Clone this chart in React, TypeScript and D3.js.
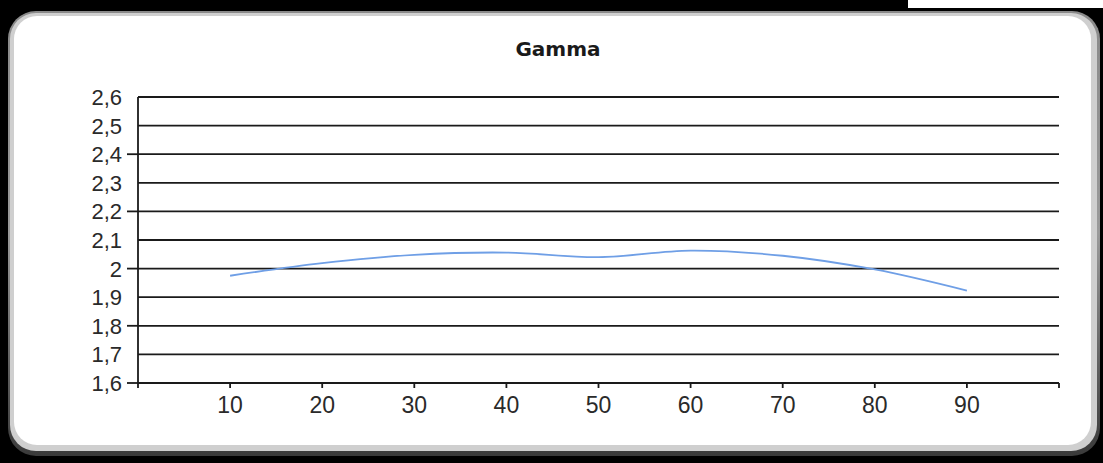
import React from "react";
import * as d3 from "d3";

const xValues = [10, 20, 30, 40, 50, 60, 70, 80, 90];
const gammaValues = [1.975, 2.019, 2.048, 2.056, 2.04, 2.063, 2.045, 1.997, 1.923];
const yTickLabels = [1.6, 1.7, 1.8, 1.9, 2.0, 2.1, 2.2, 2.3, 2.4, 2.5, 2.6];
const yMajorTicks = [1.6, 1.8, 2.0, 2.2, 2.4];
const xTickLabels = [10, 20, 30, 40, 50, 60, 70, 80, 90];
const xTickMarks = [10, 20, 30, 40, 50, 60, 70, 80, 90, 100];
const title = "Gamma";

const W = 1103;
const H = 463;

export default function App() {
  const x = d3.scaleLinear().domain([0, 100]).range([138, 1059]);
  const y = d3.scaleLinear().domain([1.6, 2.6]).range([383, 97]);
  const line = d3
    .line<number>()
    .x((_, i) => x(xValues[i]))
    .y((d) => y(d))
    .curve(d3.curveCatmullRom.alpha(0.5));
  const fmt = (v: number) => (Number.isInteger(v) ? String(v) : v.toFixed(1).replace(".", ","));

  return (
    <svg
      width={W}
      height={H}
      style={{ position: "fixed", left: 0, top: 0, display: "block" }}
      fontFamily="'Liberation Sans', Arial, sans-serif"
    >
      <defs>
        <linearGradient id="ring" x1="0" y1="0" x2="0" y2="1">
          <stop offset="0" stopColor="#8a8a8a" />
          <stop offset="0.5" stopColor="#9a9a9a" />
          <stop offset="1" stopColor="#3a3a3a" />
        </linearGradient>
      </defs>
      <rect x={0} y={0} width={W} height={H} fill="#000" />
      <rect x={908} y={0} width={195} height={8} fill="#fff" />
      <rect x={8} y={11} width={1092} height={445} rx={28} fill="url(#ring)" />
      <rect x={10} y={13} width={1087} height={438} rx={26} fill="#cfcfcf" />
      <rect x={14} y={16} width={1077} height={429} rx={23} fill="#fff" />

      <text
        x={558}
        y={56}
        textAnchor="middle"
        fontFamily="'DejaVu Sans', Verdana, sans-serif"
        fontWeight="bold"
        fontSize={20}
        fill="#1a1a1a"
      >
        {title}
      </text>

      {yTickLabels.map((v) => (
        <line key={"g" + v} x1={x(0)} x2={x(100)} y1={y(v)} y2={y(v)} stroke="#1a1a1a" strokeWidth={1.8} />
      ))}
      {yMajorTicks.map((v) => (
        <line key={"t" + v} x1={x(0) - 11} x2={x(0)} y1={y(v)} y2={y(v)} stroke="#1a1a1a" strokeWidth={1.8} />
      ))}
      {yTickLabels.map((v) => (
        <text key={"l" + v} x={122} y={y(v)} dy="0.36em" textAnchor="end" fontSize={22} fill="#2a2a2a">
          {fmt(v)}
        </text>
      ))}

      <line x1={x(0)} x2={x(0)} y1={y(2.6)} y2={y(1.6) + 5} stroke="#1a1a1a" strokeWidth={1.8} />
      {xTickMarks.map((v) => (
        <line key={"xt" + v} x1={x(v)} x2={x(v)} y1={y(1.6)} y2={y(1.6) + 5} stroke="#1a1a1a" strokeWidth={1.8} />
      ))}
      {xTickLabels.map((v) => (
        <text key={"xl" + v} x={x(v)} y={413} textAnchor="middle" fontSize={23} fill="#2a2a2a">
          {v}
        </text>
      ))}

      <path d={line(gammaValues) || ""} fill="none" stroke="#6f9fe6" strokeWidth={1.8} />
    </svg>
  );
}
